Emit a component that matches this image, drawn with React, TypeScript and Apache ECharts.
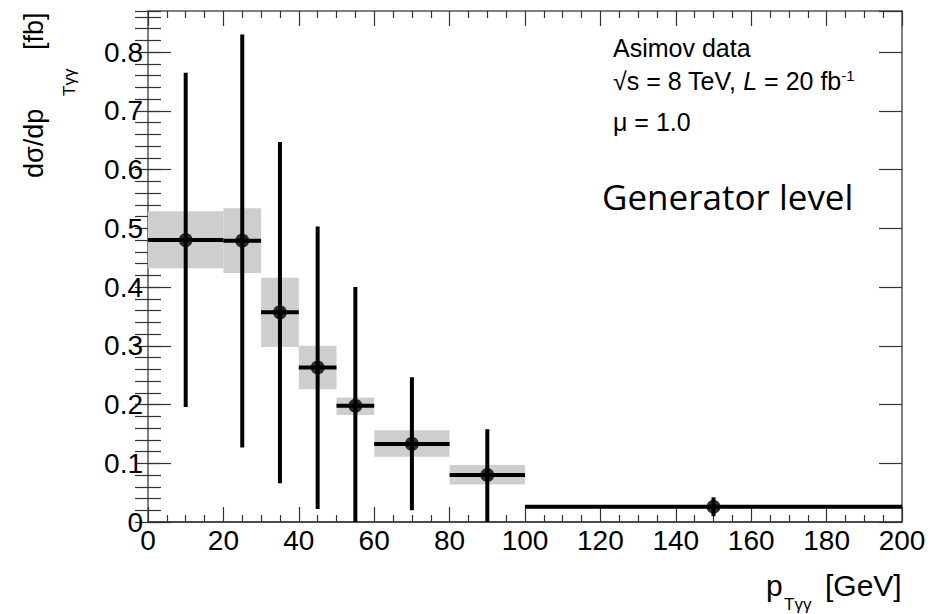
import React, { useEffect, useRef } from "react";
import * as echarts from "echarts";

// Bin edges (GeV)
const binLo = [0, 20, 30, 40, 50, 60, 80, 100];
const binHi = [20, 30, 40, 50, 60, 80, 100, 200];
const binCenter = [10, 25, 35, 45, 55, 70, 90, 150];
// Cross section dσ/dpT [fb]
const xsec = [0.48, 0.479, 0.357, 0.263, 0.198, 0.133, 0.08, 0.026];
// Statistical error bar (lower / upper end)
const statLo = [0.196, 0.127, 0.066, 0.022, 0.0, 0.02, 0.0, 0.01];
const statHi = [0.765, 0.83, 0.647, 0.503, 0.4, 0.2465, 0.158, 0.042];
// Systematic band (lower / upper end)
const sysLo = [0.432, 0.424, 0.298, 0.226, 0.182, 0.111, 0.064, 0.023];
const sysHi = [0.529, 0.534, 0.416, 0.3, 0.212, 0.156, 0.097, 0.029];

const xTicks = { min: 0, max: 200, major: 20, minorSplit: 4 };
const yTicks = { min: 0, max: 0.87, major: 0.1, minor: 0.02 };

const FONT = "Liberation Sans";

export default function App() {
  const ref = useRef<HTMLDivElement>(null);
  useEffect(() => {
    if (!ref.current) return;
    const chart = echarts.init(ref.current, null, { renderer: "svg" });

    const boxData = binLo.map((lo, i) => [lo, binHi[i], sysLo[i], sysHi[i]]);
    const errData = binLo.map((lo, i) => [lo, binHi[i], binCenter[i], xsec[i], statLo[i], statHi[i]]);
    const pointData = binCenter.map((c, i) => [c, xsec[i]]);

    const frameColor = "#555";
    const tickColor = "#333";

    const xBase = {
      type: "value",
      min: xTicks.min,
      max: xTicks.max,
      interval: xTicks.major,
      splitLine: { show: false },
      axisLine: { show: true, onZero: false, lineStyle: { color: frameColor, width: 1.5 } },
      axisTick: { show: true, inside: true, length: 15, lineStyle: { color: tickColor, width: 1.2 } },
      minorTick: { show: true, splitNumber: xTicks.minorSplit, length: 7, lineStyle: { color: tickColor, width: 1.2 } },
      minorSplitLine: { show: false },
    };
    const yMajor = {
      type: "value",
      min: yTicks.min,
      max: yTicks.max,
      interval: yTicks.major,
      splitLine: { show: false },
      axisLine: { show: true, onZero: false, lineStyle: { color: frameColor, width: 1.5 } },
      axisTick: { show: true, inside: true, length: 23, lineStyle: { color: tickColor, width: 1.2 } },
    };
    const yMinor = {
      type: "value",
      min: yTicks.min,
      max: yTicks.max,
      interval: yTicks.minor,
      splitLine: { show: false },
      axisLine: { show: false },
      axisLabel: { show: false },
      axisTick: { show: true, inside: true, length: 13, lineStyle: { color: tickColor, width: 1.2 } },
    };

    chart.setOption({
      animation: false,
      backgroundColor: "#fff",
      grid: { left: 148, right: 28, top: 11, bottom: 92, containLabel: false },
      xAxis: [
        {
          ...xBase,
          position: "bottom",
          axisLine: { show: true, onZero: false, lineStyle: { color: "#111", width: 1.5 } },
          axisLabel: { show: true, fontSize: 28, color: "#000", fontFamily: FONT, margin: 4 },
        },
        { ...xBase, position: "top", axisLabel: { show: false } },
      ],
      yAxis: [
        {
          ...yMajor,
          position: "left",
          axisLabel: {
            show: true,
            fontSize: 28,
            color: "#000",
            fontFamily: FONT,
            margin: 5,
            showMaxLabel: false,
            formatter: (v: number) => (v === 0 ? "0" : v.toFixed(1)),
          },
        },
        { ...yMinor, position: "left" },
        { ...yMajor, position: "right", axisLabel: { show: false } },
        { ...yMinor, position: "right" },
      ],
      series: [
        {
          type: "custom",
          name: "sys",
          xAxisIndex: 0,
          yAxisIndex: 0,
          data: boxData,
          encode: { x: [0, 1], y: [2, 3] },
          renderItem: (params: any, api: any) => {
            const p1 = api.coord([api.value(0), api.value(3)]);
            const p2 = api.coord([api.value(1), api.value(2)]);
            return {
              type: "rect",
              shape: { x: p1[0], y: p1[1], width: p2[0] - p1[0], height: p2[1] - p1[1] },
              style: { fill: "#cdcfcd" },
            };
          },
          z: 1,
        },
        {
          type: "custom",
          name: "stat",
          xAxisIndex: 0,
          yAxisIndex: 0,
          data: errData,
          encode: { x: [0, 1], y: [3, 4, 5] },
          renderItem: (params: any, api: any) => {
            const a = api.coord([api.value(0), api.value(3)]);
            const b = api.coord([api.value(1), api.value(3)]);
            const c1 = api.coord([api.value(2), api.value(4)]);
            const c2 = api.coord([api.value(2), api.value(5)]);
            return {
              type: "group",
              children: [
                { type: "line", shape: { x1: a[0], y1: a[1], x2: b[0], y2: b[1] }, style: { stroke: "#000", lineWidth: 4 } },
                { type: "line", shape: { x1: c1[0], y1: c1[1], x2: c2[0], y2: c2[1] }, style: { stroke: "#000", lineWidth: 4 } },
              ],
            };
          },
          z: 2,
        },
        {
          type: "scatter",
          name: "points",
          xAxisIndex: 0,
          yAxisIndex: 0,
          data: pointData,
          symbol: "circle",
          symbolSize: 14,
          itemStyle: { color: "#000" },
          z: 3,
        },
      ],
      graphic: [
        {
          type: "group",
          x: 20,
          y: 178,
          rotation: Math.PI / 2,
          children: [
            { type: "text", x: 0, y: 0, style: { text: "dσ/dp", fontSize: 27, fontFamily: FONT, fill: "#000", align: "left", verticalAlign: "top" } },
            { type: "text", x: 82, y: 41, style: { text: "Tγγ", fontSize: 17, fontFamily: FONT, fill: "#000", align: "left", verticalAlign: "top" } },
            { type: "text", x: 128, y: 0, style: { text: "[fb]", fontSize: 27, fontFamily: FONT, fill: "#000", align: "left", verticalAlign: "top" } },
          ],
        },
        { type: "text", x: 766, y: 570, style: { text: "p", fontSize: 30, fontFamily: FONT, fill: "#000", verticalAlign: "top" } },
        { type: "text", x: 784, y: 596, style: { text: "Tγγ", fontSize: 17, fontFamily: FONT, fill: "#000", verticalAlign: "top" } },
        { type: "text", x: 825, y: 570, style: { text: "[GeV]", fontSize: 30, fontFamily: FONT, fill: "#000", verticalAlign: "top" } },
        { type: "text", x: 613, y: 35, style: { text: "Asimov data", fontSize: 25, fontFamily: FONT, fill: "#000", verticalAlign: "top" } },
        {
          type: "text",
          x: 613,
          y: 68,
          style: {
            text: "{a|√s = 8 TeV, }{i|L}{a| = 20 fb}{s|-1}",
            fontFamily: FONT,
            fill: "#000",
            verticalAlign: "top",
            rich: {
              a: { fontSize: 25, fontFamily: FONT, fill: "#000" },
              i: { fontSize: 25, fontFamily: FONT, fontStyle: "italic", fill: "#000" },
              s: { fontSize: 15, fontFamily: FONT, fill: "#000", verticalAlign: "top" },
            },
          },
        },
        { type: "text", x: 613, y: 109, style: { text: "μ = 1.0", fontSize: 25, fontFamily: FONT, fill: "#000", verticalAlign: "top" } },
        { type: "text", x: 602, y: 179, style: { text: "Generator level", fontSize: 35, fontFamily: "Open Sans", fill: "#000", verticalAlign: "top" } },
      ],
    });
    return () => chart.dispose();
  }, []);
  return (
    <div
      ref={ref}
      style={{ position: "absolute", left: 0, top: 0, width: 930, height: 614, background: "#fff" }}
    />
  );
}
